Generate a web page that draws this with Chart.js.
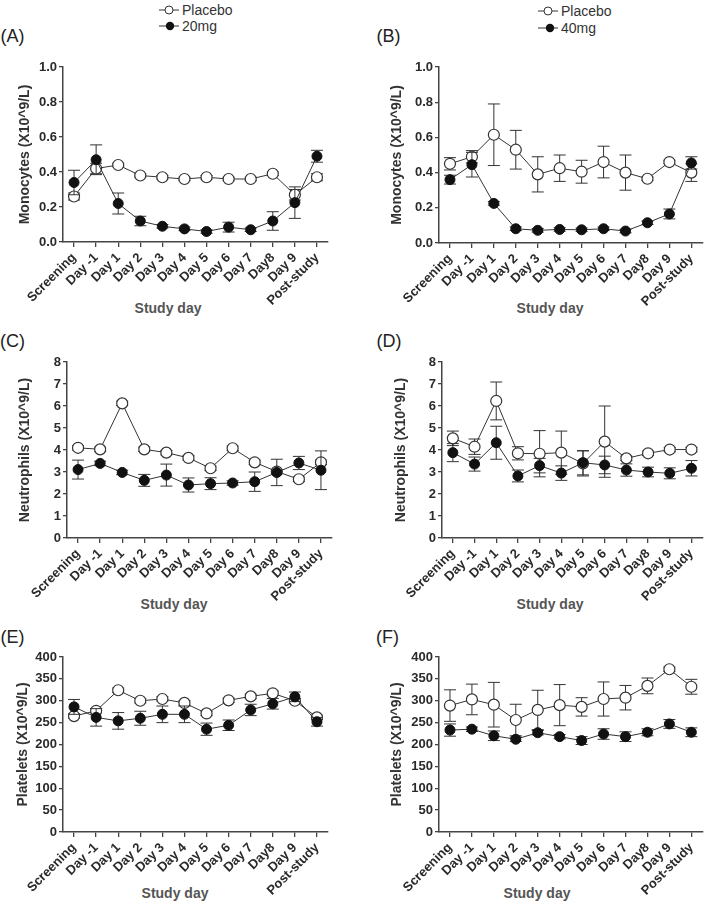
<!DOCTYPE html>
<html lang="en">
<head>
<meta charset="UTF-8">
<title>Monocytes, neutrophils and platelets by study day</title>
<style>
    body, html {
        margin: 0;
        padding: 0;
        background: #fff;
    }
    #page {
        position: relative;
        width: 709px;
        height: 905px;
        overflow: hidden;
        font-family: 'Liberation Sans', Arial, sans-serif;
        color: #333;
    }
    #page canvas {
        position: absolute;
    }
    .lbl {
        position: absolute;
        transform: translate(-50%, -50%);
        white-space: nowrap;
        line-height: 1;
    }
    .panel { font-size: 18px; color: #222; }
    .xtitle { font-size: 14px; font-weight: bold; color: #555; }
    .legend {
        position: absolute;
        display: flex;
        align-items: center;
        font-size: 14px;
        line-height: 1;
        color: #333;
        white-space: nowrap;
    }
    .legend svg { display: block; }
</style>
</head>
<body>
<div id="page">
    <!-- legends -->
    <div class="legend" style="left:159px; top:3px;">
        <svg width="23" height="14"><line x1="0" y1="7" x2="20" y2="7" stroke="#333"/><circle cx="10" cy="7" r="4" fill="#fff" stroke="#333"/></svg><span>Placebo</span>
    </div>
    <div class="legend" style="left:159px; top:19px;">
        <svg width="23" height="14"><line x1="0" y1="7" x2="20" y2="7" stroke="#333"/><circle cx="11" cy="7" r="4.2" fill="#111"/></svg><span>20mg</span>
    </div>
    <div class="legend" style="left:538px; top:4px;">
        <svg width="23" height="14"><line x1="0" y1="7" x2="20" y2="7" stroke="#333"/><circle cx="10" cy="7" r="4" fill="#fff" stroke="#333"/></svg><span>Placebo</span>
    </div>
    <div class="legend" style="left:538px; top:21px;">
        <svg width="23" height="14"><line x1="0" y1="7" x2="20" y2="7" stroke="#333"/><circle cx="12" cy="7" r="4.2" fill="#111"/></svg><span>40mg</span>
    </div>

    <!-- panel letters -->
    <div class="lbl panel" style="left:12.5px; top:35.5px;">(A)</div>
    <div class="lbl panel" style="left:388.5px; top:35.5px;">(B)</div>
    <div class="lbl panel" style="left:12.5px; top:340.5px;">(C)</div>
    <div class="lbl panel" style="left:389px; top:340.5px;">(D)</div>
    <div class="lbl panel" style="left:12.5px; top:636.5px;">(E)</div>
    <div class="lbl panel" style="left:387.5px; top:636.5px;">(F)</div>

    <!-- x axis titles -->
    <div class="lbl xtitle" style="left:168px; top:308px;">Study day</div>
    <div class="lbl xtitle" style="left:550px; top:308px;">Study day</div>
    <div class="lbl xtitle" style="left:174px; top:604px;">Study day</div>
    <div class="lbl xtitle" style="left:550px; top:604px;">Study day</div>
    <div class="lbl xtitle" style="left:175px; top:893px;">Study day</div>
    <div class="lbl xtitle" style="left:537px; top:893px;">Study day</div>
</div>

<script src="https://cdn.jsdelivr.net/npm/chart.js"></script>
<script>

const days = ['Screening', 'Day -1', 'Day 1', 'Day 2', 'Day 3', 'Day 4', 'Day 5', 'Day 6', 'Day 7', 'Day8', 'Day 9', 'Post-study'];

// (A) monocytes, placebo vs 20mg
const monoPlaceboA    = [0.26, 0.42, 0.44, 0.38, 0.37, 0.36, 0.37, 0.36, 0.36, 0.39, 0.27, 0.37];
const monoPlaceboAErr = [0.02, 0.03, 0.01, 0.01, 0.01, 0.01, 0.01, 0.01, 0.01, 0.01, 0.03, 0.02];
const mono20          = [0.34, 0.47, 0.22, 0.12, 0.09, 0.075, 0.06, 0.085, 0.07, 0.12, 0.225, 0.49];
const mono20Err       = [0.07, 0.085, 0.06, 0.027, 0.01, 0.01, 0.01, 0.028, 0.01, 0.053, 0.09, 0.034];

// (B) monocytes, placebo vs 40mg
const monoPlaceboB    = [0.45, 0.49, 0.615, 0.53, 0.39, 0.425, 0.405, 0.46, 0.40, 0.365, 0.46, 0.40];
const monoPlaceboBErr = [0.035, 0.035, 0.175, 0.11, 0.10, 0.075, 0.065, 0.09, 0.10, 0.01, 0.01, 0.05];
const mono40          = [0.36, 0.445, 0.225, 0.081, 0.072, 0.077, 0.075, 0.081, 0.068, 0.115, 0.165, 0.455];
const mono40Err       = [0.025, 0.07, 0.01, 0.01, 0.01, 0.01, 0.01, 0.01, 0.01, 0.01, 0.028, 0.035];

// (C) neutrophils, placebo vs 20mg
const neutPlaceboC    = [4.1, 4.03, 6.12, 4.03, 3.88, 3.64, 3.17, 4.08, 3.44, 3.02, 2.67, 3.44];
const neutPlaceboCErr = [0.1, 0.1, 0.1, 0.1, 0.1, 0.1, 0.1, 0.1, 0.1, 0.1, 0.1, 0.1];
const neut20          = [3.11, 3.39, 2.98, 2.62, 2.86, 2.41, 2.47, 2.5, 2.56, 2.98, 3.41, 3.08];
const neut20Err       = [0.43, 0.1, 0.1, 0.27, 0.5, 0.32, 0.27, 0.1, 0.44, 0.6, 0.3, 0.88];

// (D) neutrophils, placebo vs 40mg
const neutPlaceboD    = [4.53, 4.15, 6.23, 3.85, 3.83, 3.88, 3.39, 4.38, 3.62, 3.85, 4.02, 4.02];
const neutPlaceboDErr = [0.33, 0.35, 0.86, 0.3, 1.05, 0.98, 0.57, 1.62, 0.1, 0.1, 0.1, 0.1];
const neut40          = [3.88, 3.36, 4.33, 2.82, 3.29, 2.95, 3.42, 3.32, 3.09, 3.0, 2.94, 3.17];
const neut40Err       = [0.41, 0.32, 0.75, 0.27, 0.33, 0.33, 0.55, 0.4, 0.28, 0.22, 0.25, 0.35];

// (E) platelets, placebo vs 20mg
const platPlaceboE    = [265, 277, 324, 300, 304, 295, 271, 301, 310, 317, 300, 262];
const platPlaceboEErr = [5, 5, 5, 5, 5, 5, 5, 5, 5, 5, 5, 5];
const plat20          = [286, 262, 254, 260, 269, 269, 235, 244, 279, 293, 309, 252];
const plat20Err       = [17, 20, 19, 16, 19, 19, 14, 12, 13, 12, 11, 10];

// (F) platelets, placebo vs 40mg
const platPlaceboF    = [289, 303, 291, 256, 279, 290, 286, 304, 307, 334, 372, 332];
const platPlaceboFErr = [36, 35, 51, 36, 45, 47, 21, 39, 28, 18, 5, 17];
const plat40          = [233, 235, 220, 212, 227, 218, 209, 224, 218, 228, 247, 228];
const plat40Err       = [14, 5, 11, 5, 5, 5, 9, 12, 11, 8, 10, 10];


const FONT = "'Liberation Sans', Arial, sans-serif";
const TITLE_SIZE = 14;
const AXIS_COLOR = '#444';

// mean +/- error bars, drawn just before each dataset so the symbols sit on top
const errorBars = {
    id: 'errorBars',
    beforeDatasetDraw(chart, args) {
        const ds = chart.data.datasets[args.index];
        const yScale = chart.scales.y;
        const ctx = chart.ctx;
        ctx.save();
        ctx.strokeStyle = '#333';
        ctx.lineWidth = 1;
        args.meta.data.forEach((pt, i) => {
            const v = ds.data[i];
            const e = ds.err[i];
            const top = yScale.getPixelForValue(v + e);
            const bot = yScale.getPixelForValue(v - e);
            ctx.beginPath();
            ctx.moveTo(pt.x, top);
            ctx.lineTo(pt.x, bot);
            ctx.moveTo(pt.x - 6, top);
            ctx.lineTo(pt.x + 6, top);
            ctx.moveTo(pt.x - 6, bot);
            ctx.lineTo(pt.x + 6, bot);
            ctx.stroke();
        });
        ctx.restore();
    }
};

// box = canvas [left, top, width, height], area = wanted plot area [left, top, right, bottom] in page px
function drawPanel(p) {
    const cv = document.createElement('canvas');
    cv.width = p.box[2];
    cv.height = p.box[3];
    cv.style.left = p.box[0] + 'px';
    cv.style.top = p.box[1] + 'px';
    document.getElementById('page').appendChild(cv);

    const padLeft = p.titleX - TITLE_SIZE * 1.2 / 2 - p.box[0];
    const yWidth = p.area[0] - p.box[0] - padLeft;
    const xHeight = p.box[1] + p.box[3] - p.area[3];

    new Chart(cv, {
        type: 'line',
        data: {
            labels: days,
            datasets: [
                {
                    label: p.drugName, data: p.drug, err: p.drugErr, order: 0,
                    borderColor: '#333', borderWidth: 1,
                    pointRadius: 5, pointBackgroundColor: '#111', pointBorderColor: '#111', pointBorderWidth: 1
                },
                {
                    label: 'Placebo', data: p.placebo, err: p.placeboErr, order: 1,
                    borderColor: '#333', borderWidth: 1,
                    pointRadius: 5.5, pointBackgroundColor: '#fff', pointBorderColor: '#333', pointBorderWidth: 1.2
                }
            ]
        },
        options: {
            responsive: false,
            animation: false,
            events: [],
            layout: {
                padding: {
                    left: padLeft,
                    top: p.area[1] - p.box[1],
                    right: p.box[0] + p.box[2] - p.area[2],
                    bottom: 0
                }
            },
            plugins: {
                legend: { display: false },
                tooltip: { enabled: false }
            },
            scales: {
                x: {
                    offset: true,
                    afterFit: s => { s.height = xHeight; },
                    grid: { drawOnChartArea: false, tickLength: 5, color: AXIS_COLOR, lineWidth: 1.3 },
                    border: { color: AXIS_COLOR, width: 1.5 },
                    ticks: {
                        autoSkip: false, minRotation: 45, maxRotation: 45, padding: 3,
                        color: '#2a2a2a', font: { family: FONT, size: 13, weight: 'bold' }
                    }
                },
                y: {
                    min: 0,
                    max: p.yMax,
                    afterFit: s => { s.width = yWidth; },
                    grid: { drawOnChartArea: false, tickLength: 4, color: AXIS_COLOR, lineWidth: 1.3 },
                    border: { color: AXIS_COLOR, width: 1.5 },
                    ticks: {
                        stepSize: p.yStep, padding: 2,
                        color: '#2a2a2a', font: { family: FONT, size: 13, weight: 'bold' },
                        callback: v => v.toFixed(p.digits)
                    },
                    title: {
                        display: true, text: p.yTitle, padding: 0,
                        color: '#333', font: { family: FONT, size: TITLE_SIZE, weight: 'bold' }
                    }
                }
            }
        },
        plugins: [errorBars]
    });
}

drawPanel({ box: [0, 0, 354, 315], area: [63, 67, 328, 242], titleX: 25,
    yTitle: 'Monocytes (X10^9/L)', yMax: 1, yStep: 0.2, digits: 1, drugName: '20mg',
    placebo: monoPlaceboA, placeboErr: monoPlaceboAErr, drug: mono20, drugErr: mono20Err });

drawPanel({ box: [354, 0, 355, 315], area: [439, 67, 703, 243], titleX: 397,
    yTitle: 'Monocytes (X10^9/L)', yMax: 1, yStep: 0.2, digits: 1, drugName: '40mg',
    placebo: monoPlaceboB, placeboErr: monoPlaceboBErr, drug: mono40, drugErr: mono40Err });

drawPanel({ box: [0, 300, 354, 312], area: [67, 362, 332, 538], titleX: 25,
    yTitle: 'Neutrophils (X10^9/L)', yMax: 8, yStep: 1, digits: 0, drugName: '20mg',
    placebo: neutPlaceboC, placeboErr: neutPlaceboCErr, drug: neut20, drugErr: neut20Err });

drawPanel({ box: [354, 300, 355, 312], area: [442, 362, 705, 538], titleX: 401,
    yTitle: 'Neutrophils (X10^9/L)', yMax: 8, yStep: 1, digits: 0, drugName: '40mg',
    placebo: neutPlaceboD, placeboErr: neutPlaceboDErr, drug: neut40, drugErr: neut40Err });

drawPanel({ box: [0, 600, 354, 305], area: [63, 657, 328, 832], titleX: 23,
    yTitle: 'Platelets (X10^9/L)', yMax: 400, yStep: 50, digits: 0, drugName: '20mg',
    placebo: platPlaceboE, placeboErr: platPlaceboEErr, drug: plat20, drugErr: plat20Err });

drawPanel({ box: [354, 600, 355, 305], area: [439, 657, 703, 832], titleX: 397,
    yTitle: 'Platelets (X10^9/L)', yMax: 400, yStep: 50, digits: 0, drugName: '40mg',
    placebo: platPlaceboF, placeboErr: platPlaceboFErr, drug: plat40, drugErr: plat40Err });

</script>
</body>
</html>
